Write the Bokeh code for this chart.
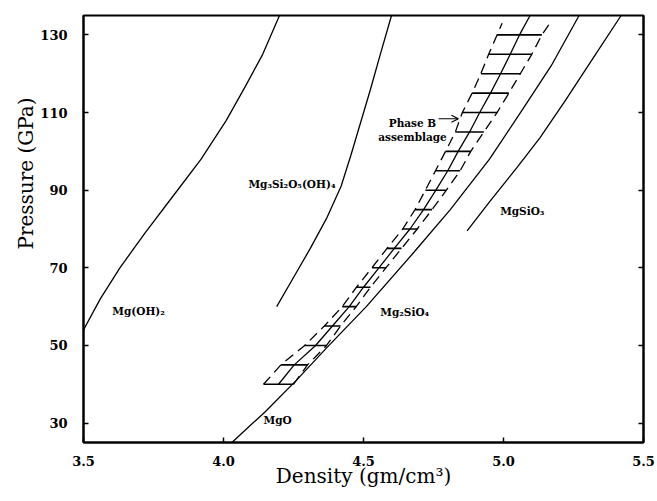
from bokeh.plotting import figure
from bokeh.models import Range1d, LinearAxis, FixedTicker, Arrow, OpenHead, Title
from bokeh.core.properties import value
from bokeh.embed import file_html
from bokeh.resources import INLINE

# ---- data ----
x_ticks = [3.5, 4.0, 4.5, 5.0, 5.5]
x_tick_labels = ["3.5", "4.0", "4.5", "5.0", "5.5"]
y_ticks = [30, 50, 70, 90, 110, 130]

mgoh2_x = [3.50, 3.56, 3.63, 3.72, 3.82, 3.92, 4.01, 4.08, 4.14, 4.20]
mgoh2_p = [54.0, 62.0, 70.0, 79.0, 88.5, 98.0, 108.0, 117.0, 125.0, 135.0]

serp_x = [4.19, 4.25, 4.31, 4.37, 4.42, 4.455, 4.49, 4.525, 4.56, 4.60]
serp_p = [60.0, 67.5, 75.0, 83.0, 91.0, 99.0, 107.5, 116.0, 125.0, 135.0]

mgo_x = [4.03, 4.15, 4.26, 4.37, 4.51, 4.68, 4.81, 4.95, 5.07, 5.17, 5.27]
mgo_p = [25.0, 33.0, 41.0, 49.5, 60.0, 74.0, 85.0, 98.0, 111.0, 122.0, 135.0]

mgsio3_x = [4.87, 4.95, 5.05, 5.13, 5.22, 5.32, 5.42]
mgsio3_p = [79.5, 87.0, 96.0, 103.5, 113.0, 124.0, 135.0]

bar_p = [40, 45, 50, 55, 60, 65, 70, 75, 80, 85, 90, 95, 100, 105, 110, 115, 120, 125, 130]
bar_left = [4.143, 4.205, 4.290, 4.360, 4.424, 4.475, 4.530, 4.584, 4.640, 4.684,
            4.721, 4.757, 4.793, 4.828, 4.853, 4.888, 4.919, 4.947, 4.977]
bar_right = [4.250, 4.300, 4.368, 4.418, 4.474, 4.525, 4.580, 4.636, 4.692, 4.745,
             4.796, 4.845, 4.883, 4.930, 4.977, 5.019, 5.060, 5.101, 5.137]

center_p = bar_p + [135]
center_x = [(a + b) / 2 for a, b in zip(bar_left, bar_right)] + [5.095]

env_p = bar_p + [133]
env_left = bar_left + [4.995]
env_right = bar_right + [5.165]

label_text = ["Mg(OH)\u2082", "Mg\u2083Si\u2082O\u2085(OH)\u2084", "MgO", "Mg\u2082SiO\u2084", "MgSiO\u2083"]
label_x = [3.603, 4.089, 4.143, 4.560, 4.988]
label_p = [59.0, 91.6, 30.7, 58.6, 84.6]

phase_text = ["Phase B", "assemblage"]
phase_x = [4.675, 4.675]
phase_p = [107.3, 103.6]
arrow_x = [4.768, 4.839]
arrow_p = 108.4

# ---- figure ----
p = figure(width=657, height=501, x_range=Range1d(3.5, 5.5), y_range=Range1d(25, 135),
           output_backend="svg", toolbar_location=None,
           min_border_left=83, min_border_right=14, min_border_top=15, min_border_bottom=59)
p.background_fill_color = "white"
p.border_fill_color = "white"
p.grid.visible = False
p.outline_line_color = "black"
p.outline_line_width = 2

serif = "DejaVu Serif"

xa = p.xaxis[0]
xa.ticker = FixedTicker(ticks=x_ticks)
xa.major_label_overrides = {t: s for t, s in zip(x_ticks, x_tick_labels)}
xa.axis_label = "Density (gm/cm\u00b3)"
xa.axis_label_text_font = serif
xa.axis_label_text_font_size = "20px"
xa.axis_label_text_font_style = "normal"
xa.axis_label_text_color = "black"
xa.axis_label_standoff = -5
xa.major_label_text_font = serif
xa.major_label_text_font_style = "bold"
xa.major_label_text_font_size = "13px"
xa.major_label_text_color = "black"
xa.major_label_standoff = 13

ya = p.yaxis[0]
ya.ticker = FixedTicker(ticks=y_ticks)
ya.major_label_text_font = serif
ya.major_label_text_font_style = "bold"
ya.major_label_text_font_size = "13px"
ya.major_label_text_color = "black"
ya.major_label_standoff = 16

for ax in (xa, ya):
    ax.axis_line_color = "black"
    ax.axis_line_width = 2
    ax.major_tick_in = 5
    ax.major_tick_out = 0
    ax.major_tick_line_color = "black"
    ax.major_tick_line_width = 1.5
    ax.minor_tick_line_color = None

ra = LinearAxis(ticker=FixedTicker(ticks=y_ticks), major_label_text_color=None,
                major_label_text_font_size="1px",
                major_label_standoff=0, major_tick_in=5, major_tick_out=0,
                major_tick_line_width=1.5, minor_tick_line_color=None,
                axis_line_color="black", axis_line_width=2)
p.add_layout(ra, "right")

# y-axis title, placed above centre as in the reference
ytitle = Title(text="Pressure (GPa)", align="right", offset=82,
               text_font=serif, text_font_size="20px", text_font_style="normal",
               text_color="black", standoff=0)
p.add_layout(ytitle, "left")

lw = 1.3
p.line(mgoh2_x, mgoh2_p, line_color="black", line_width=lw)
p.line(serp_x, serp_p, line_color="black", line_width=lw)
p.line(mgo_x, mgo_p, line_color="black", line_width=lw)
p.line(mgsio3_x, mgsio3_p, line_color="black", line_width=lw)

p.line(center_x, center_p, line_color="black", line_width=lw)
p.line(env_left, env_p, line_color="black", line_width=lw, line_dash="10 6")
p.line(env_right, env_p, line_color="black", line_width=lw, line_dash="10 6")
p.segment(x0=bar_left, y0=bar_p, x1=bar_right, y1=bar_p, line_color="black", line_width=1.6)

p.text(x=label_x, y=label_p, text=label_text, text_font=value(serif), text_font_style="bold",
       text_font_size="10.5px", text_baseline="middle", text_align="left", text_color="black")
p.text(x=phase_x, y=phase_p, text=phase_text, text_font=value(serif), text_font_style="bold",
       text_font_size="10.5px", text_baseline="middle", text_align="center", text_color="black")

p.add_layout(Arrow(end=OpenHead(size=7, line_width=1.2, line_color="black"),
                   x_start=arrow_x[0], y_start=arrow_p, x_end=arrow_x[1], y_end=arrow_p,
                   line_width=1.2, line_color="black"))

open("out.html", "w").write(file_html(p, INLINE))
